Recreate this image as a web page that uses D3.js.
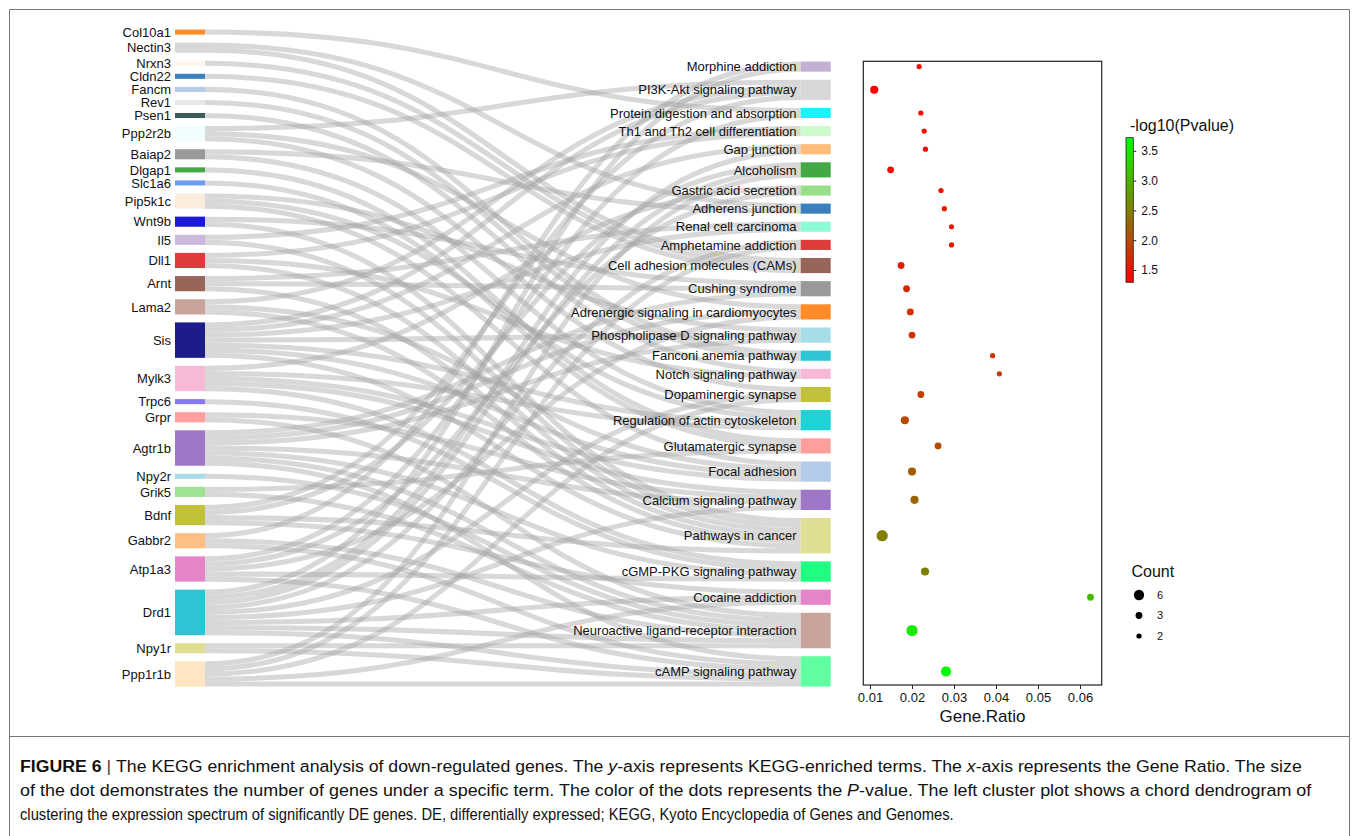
<!DOCTYPE html>
<html>
<head>
<meta charset="utf-8">
<script src="https://cdn.jsdelivr.net/npm/d3@7"></script>
<style>
  body { margin: 0; background: #fff; }
  svg text { font-family: "Liberation Sans", Arial, Helvetica, sans-serif; fill: #111; }
</style>
</head>
<body>
<svg id="chart" width="1358" height="836"></svg>
<script>
// genes on the left, in drawing order
const genes = ["Col10a1", "Nectin3", "Nrxn3", "Cldn22", "Fancm", "Rev1", "Psen1", "Ppp2r2b",
  "Baiap2", "Dlgap1", "Slc1a6", "Pip5k1c", "Wnt9b", "Il5", "Dll1", "Arnt", "Lama2", "Sis",
  "Mylk3", "Trpc6", "Grpr", "Agtr1b", "Npy2r", "Grik5", "Bdnf", "Gabbr2", "Atp1a3", "Drd1",
  "Npy1r", "Ppp1r1b"];

// KEGG terms on the right, in drawing order
const terms = ["Morphine addiction", "PI3K-Akt signaling pathway", "Protein digestion and absorption",
  "Th1 and Th2 cell differentiation", "Gap junction", "Alcoholism", "Gastric acid secretion",
  "Adherens junction", "Renal cell carcinoma", "Amphetamine addiction",
  "Cell adhesion molecules (CAMs)", "Cushing syndrome", "Adrenergic signaling in cardiomyocytes",
  "Phospholipase D signaling pathway", "Fanconi anemia pathway", "Notch signaling pathway",
  "Dopaminergic synapse", "Regulation of actin cytoskeleton", "Glutamatergic synapse",
  "Focal adhesion", "Calcium signaling pathway", "Pathways in cancer", "cGMP-PKG signaling pathway",
  "Cocaine addiction", "Neuroactive ligand-receptor interaction", "cAMP signaling pathway"];

// terms each gene belongs to (one link per pair)
const geneTerms = [
  ["Protein digestion and absorption"],
  ["Adherens junction", "Cell adhesion molecules (CAMs)"],
  ["Cell adhesion molecules (CAMs)"],
  ["Cell adhesion molecules (CAMs)"],
  ["Fanconi anemia pathway"],
  ["Fanconi anemia pathway"],
  ["Notch signaling pathway"],
  ["PI3K-Akt signaling pathway", "Adrenergic signaling in cardiomyocytes", "Dopaminergic synapse"],
  ["Adherens junction", "Regulation of actin cytoskeleton"],
  ["Glutamatergic synapse"],
  ["Glutamatergic synapse"],
  ["Phospholipase D signaling pathway", "Regulation of actin cytoskeleton", "Focal adhesion"],
  ["Cushing syndrome", "Pathways in cancer"],
  ["Th1 and Th2 cell differentiation", "Pathways in cancer"],
  ["Th1 and Th2 cell differentiation", "Notch signaling pathway", "Pathways in cancer"],
  ["Renal cell carcinoma", "Cushing syndrome", "Pathways in cancer"],
  ["PI3K-Akt signaling pathway", "Focal adhesion", "Pathways in cancer"],
  ["PI3K-Akt signaling pathway", "Gap junction", "Renal cell carcinoma", "Phospholipase D signaling pathway",
    "Regulation of actin cytoskeleton", "Focal adhesion", "Pathways in cancer"],
  ["Gastric acid secretion", "Regulation of actin cytoskeleton", "Focal adhesion",
    "Calcium signaling pathway", "cGMP-PKG signaling pathway"],
  ["cGMP-PKG signaling pathway"],
  ["Calcium signaling pathway", "Neuroactive ligand-receptor interaction"],
  ["Cushing syndrome", "Adrenergic signaling in cardiomyocytes", "Phospholipase D signaling pathway",
    "Calcium signaling pathway", "cGMP-PKG signaling pathway", "Neuroactive ligand-receptor interaction",
    "cAMP signaling pathway"],
  ["Neuroactive ligand-receptor interaction"],
  ["Glutamatergic synapse", "Neuroactive ligand-receptor interaction"],
  ["PI3K-Akt signaling pathway", "Alcoholism", "Pathways in cancer", "Cocaine addiction"],
  ["Morphine addiction", "Neuroactive ligand-receptor interaction", "cAMP signaling pathway"],
  ["Protein digestion and absorption", "Gastric acid secretion", "Adrenergic signaling in cardiomyocytes",
    "cGMP-PKG signaling pathway", "cAMP signaling pathway"],
  ["Morphine addiction", "Gap junction", "Alcoholism", "Amphetamine addiction", "Dopaminergic synapse",
    "Calcium signaling pathway", "Cocaine addiction", "Neuroactive ligand-receptor interaction",
    "cAMP signaling pathway"],
  ["Neuroactive ligand-receptor interaction", "cAMP signaling pathway"],
  ["Alcoholism", "Amphetamine addiction", "Dopaminergic synapse", "Cocaine addiction", "cAMP signaling pathway"]
];

// dot plot values per term
const geneRatio = [0.0217, 0.0110, 0.0221, 0.0229, 0.0232, 0.0149, 0.0269, 0.0277, 0.0294, 0.0294,
  0.0174, 0.0187, 0.0196, 0.0200, 0.0392, 0.0408, 0.0221, 0.0183, 0.0262, 0.0200,
  0.0206, 0.0129, 0.0231, 0.0625, 0.0200, 0.0281];
const termCount = [2, 4, 2, 2, 2, 3, 2, 2, 2, 2, 3, 3, 3, 3, 2, 2, 3, 4, 3, 4, 4, 7, 4, 3, 7, 6];
const logP = [1.32, 1.33, 1.36, 1.38, 1.39, 1.40, 1.44, 1.46, 1.48, 1.49, 1.58, 1.66, 1.74, 1.76,
  1.80, 1.85, 1.88, 2.00, 2.02, 2.18, 2.24, 2.50, 2.52, 3.08, 3.52, 3.70];

const ratioTicks = [0.01, 0.02, 0.03, 0.04, 0.05, 0.06];
const colorTicks = [1.5, 2.0, 2.5, 3.0, 3.5];
const countLegend = [6, 3, 2];

const geneColors = ["#ff8c28", "#d8d8d8", "#fdf6ea", "#3a80bd", "#b4cbea", "#e8e8e8", "#3c5a5a", "#f0fefe",
  "#999999", "#44a844", "#6e9cee", "#fbedde", "#1a1ad2", "#cbb8da", "#dc3c3c", "#96665a", "#c9a49c",
  "#1c1c8a", "#f7bad6", "#8577ef", "#ff9f9d", "#9e78c6", "#a6dde8", "#a0e294", "#c2c23a", "#ffbf82",
  "#e684ca", "#2ec3d5", "#dfdf94", "#ffe6c2"];
const termColors = ["#c5b0d5", "#d8d8d8", "#22eefc", "#ccfccc", "#ffbb78", "#44a844", "#98df8a", "#3a80bd",
  "#8cfcd8", "#dc3c3c", "#96665a", "#999999", "#ff8c28", "#a6dde8", "#2ec3d5", "#f7bad6", "#c2c23a",
  "#1dd3d3", "#ff9f9d", "#b4cbea", "#9e78c6", "#dfdf94", "#1eff82", "#e684ca", "#c9a49c", "#60ffa0"];

const svg = d3.select("#chart");

// --- frame ---
svg.append("g").attr("stroke", "#777").attr("fill", "none")
  .call(g => {
    g.append("path").attr("d", "M9.5,836V9.5H1349.5V836");
    g.append("path").attr("d", "M9.5,736.5H1349.5");
  });

// --- sankey layout (two columns, bottom aligned) ---
const unit = d3.scaleLinear().domain([0, 1]).range([0, 5.06]);
const nodePad = 8;
const bottom = 686.6;
const nodeW = 30;
const colX = d3.scalePoint().domain(["gene", "term"]).range([175, 800.7]);

const links = [];
genes.forEach((g, i) => geneTerms[i].forEach(t => links.push({ s: i, t: terms.indexOf(t) })));

function stack(names, values, col) {
  const total = d3.sum(values);
  let y = bottom - unit(total) - nodePad * (names.length - 1);
  return names.map((n, i) => {
    const node = { name: n, i, x0: colX(col), x1: colX(col) + nodeW, y0: y, y1: y + unit(values[i]) };
    y = node.y1 + nodePad;
    return node;
  });
}
const geneNodes = stack(genes, genes.map((g, i) => geneTerms[i].length), "gene");
const termNodes = stack(terms, terms.map((t, j) => links.filter(l => l.t === j).length), "term");

geneNodes.forEach(n => {
  let y = n.y0;
  links.filter(l => l.s === n.i).sort((a, b) => a.t - b.t)
    .forEach(l => { l.sy = y + unit(0.5); y += unit(1); });
});
termNodes.forEach(n => {
  let y = n.y0;
  links.filter(l => l.t === n.i).sort((a, b) => a.s - b.s)
    .forEach(l => { l.ty = y + unit(0.5); y += unit(1); });
});

const linkPath = d3.linkHorizontal()
  .source(l => [geneNodes[l.s].x1, l.sy])
  .target(l => [termNodes[l.t].x0, l.ty]);

svg.append("g")
  .attr("fill", "none")
  .attr("stroke", "#a2a2a2")
  .attr("stroke-opacity", 0.42)
  .selectAll("path")
  .data(links)
  .join("path")
  .attr("d", linkPath)
  .attr("stroke-width", unit(1));

function drawNodes(nodes, colors, labelX, anchor) {
  const g = svg.append("g");
  g.selectAll("rect").data(nodes).join("rect")
    .attr("x", d => d.x0).attr("y", d => d.y0)
    .attr("width", nodeW).attr("height", d => d.y1 - d.y0)
    .attr("fill", (d, i) => colors[i]);
  g.selectAll("text").data(nodes).join("text")
    .attr("x", labelX).attr("y", d => (d.y0 + d.y1) / 2)
    .attr("dy", "0.36em")
    .attr("text-anchor", anchor)
    .attr("font-size", 13)
    .text(d => d.name);
}
drawNodes(geneNodes, geneColors, 171, "end");
drawNodes(termNodes, termColors, 796.5, "end");

// --- dot plot ---
const panel = { x0: 863.3, x1: 1101.7, y0: 61.3, y1: 685 };
const x = d3.scaleLinear().domain([0.0084, 0.06517]).range([panel.x0, panel.x1]);
const size = d3.scaleRadial().domain([2, 7]).range([2.6, 5.6]);
const cDomain = [1.294, 3.72];
const color = d3.scaleLinear().domain(cDomain).range(["#ff0000", "#00ff00"]).interpolate(d3.interpolateRgb);

svg.append("rect")
  .attr("x", panel.x0).attr("y", panel.y0)
  .attr("width", panel.x1 - panel.x0).attr("height", panel.y1 - panel.y0)
  .attr("fill", "none").attr("stroke", "#222").attr("stroke-width", 1.2);

svg.append("g").selectAll("circle")
  .data(termNodes)
  .join("circle")
  .attr("cx", d => x(geneRatio[d.i]))
  .attr("cy", d => (d.y0 + d.y1) / 2)
  .attr("r", d => size(termCount[d.i]))
  .attr("fill", d => color(logP[d.i]));

const xAxis = svg.append("g")
  .attr("transform", `translate(0,${panel.y1})`)
  .call(d3.axisBottom(x).tickValues(ratioTicks).tickFormat(d3.format(".2f")).tickSize(4).tickPadding(4));
xAxis.select(".domain").remove();
xAxis.selectAll("line").attr("stroke", "#222");
xAxis.selectAll("text").attr("font-size", 13).attr("font-family", null).attr("fill", "#111");

svg.append("text")
  .attr("x", 982.5).attr("y", 722)
  .attr("text-anchor", "middle")
  .attr("font-size", 17)
  .text("Gene.Ratio");

// --- colour bar ---
const bar = { x: 1126, w: 7.3, y0: 137.7, y1: 282.3 };
const cy = d3.scaleLinear().domain(cDomain).range([bar.y1, bar.y0]);
const grad = svg.append("defs").append("linearGradient")
  .attr("id", "pgrad").attr("x1", 0).attr("x2", 0).attr("y1", 1).attr("y2", 0);
grad.selectAll("stop").data(cDomain).join("stop")
  .attr("offset", (d, i) => i)
  .attr("stop-color", d => color(d));
svg.append("rect")
  .attr("x", bar.x).attr("y", bar.y0)
  .attr("width", bar.w).attr("height", bar.y1 - bar.y0)
  .attr("fill", "url(#pgrad)").attr("stroke", "#222").attr("stroke-width", 0.8);
const cAxis = svg.append("g")
  .attr("transform", `translate(${bar.x + bar.w},0)`)
  .call(d3.axisRight(cy).tickValues(colorTicks).tickFormat(d3.format(".1f")).tickSize(3).tickPadding(5));
cAxis.select(".domain").remove();
cAxis.selectAll("line").attr("stroke", "#222");
cAxis.selectAll("text").attr("font-size", 12).attr("font-family", null).attr("fill", "#111");
svg.append("text")
  .attr("x", 1130).attr("y", 131)
  .attr("font-size", 16)
  .text("-log10(Pvalue)");

// --- size legend ---
svg.append("text").attr("x", 1131.5).attr("y", 577).attr("font-size", 16).text("Count");
const ly = d3.scalePoint().domain(countLegend).range([595, 636]);
const leg = svg.append("g").selectAll("g").data(countLegend).join("g")
  .attr("transform", d => `translate(1139,${ly(d)})`);
leg.append("circle").attr("r", d => size(d)).attr("fill", "#000");
leg.append("text").attr("x", 18).attr("dy", "0.35em").attr("font-size", 11).text(d => d);

// --- caption (condensed look: natural text squeezed horizontally) ---
const caption = [
  [["FIGURE 6", "b"], [" | ", "bar"], ["The KEGG enrichment analysis of down-regulated genes. The ", ""], ["y", "i"],
    ["-axis represents KEGG-enriched terms. The ", ""], ["x", "i"], ["-axis represents the Gene Ratio. The size", ""]],
  [["of the dot demonstrates the number of genes under a specific term. The color of the dots represents the ", ""],
    ["P", "i"], ["-value. The left cluster plot shows a chord dendrogram of", ""]],
  [["clustering the expression spectrum of significantly DE genes. DE, differentially expressed; KEGG, Kyoto Encyclopedia of Genes and Genomes.", ""]]
];
const captionWidth = [1282, 1292, 934];
const capY = d3.scalePoint().domain([0, 1, 2]).range([772, 820]);
caption.forEach((parts, li) => {
  const t = svg.append("text")
    .attr("x", 0).attr("y", 0)
    .attr("font-size", 17)
    .attr("xml:space", "preserve");
  parts.forEach(([s, k]) => {
    const ts = t.append("tspan").text(s);
    if (k === "b") ts.attr("font-weight", "bold");
    if (k === "i") ts.attr("font-style", "italic");
    if (k === "bar") ts.attr("fill", "#444");
  });
  const w = t.node().getComputedTextLength();
  t.attr("transform", `translate(20,${capY(li)}) scale(${captionWidth[li] / w},1)`);
});
</script>
</body>
</html>
